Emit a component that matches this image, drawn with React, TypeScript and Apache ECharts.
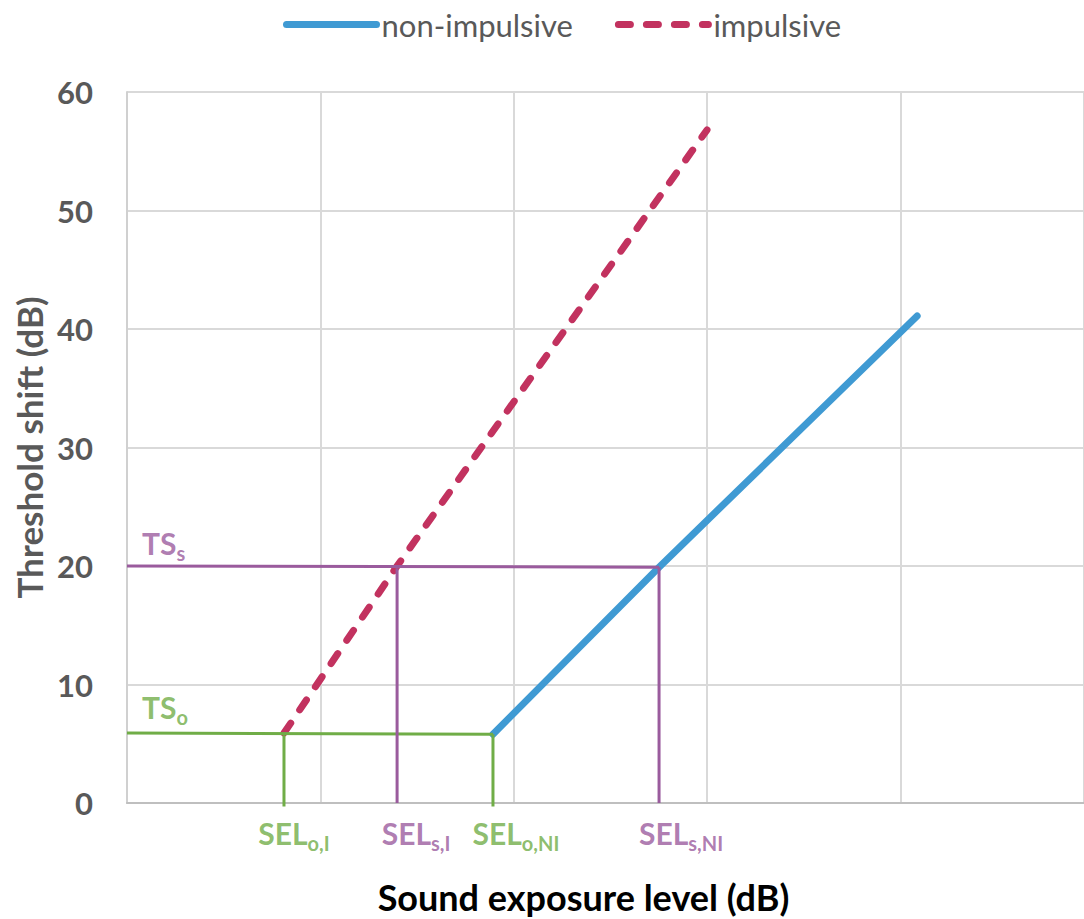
import React, { useEffect, useRef } from "react";
import * as echarts from "echarts";

// Curves (x in gridline units, y in dB)
const nonImpulsiveX = [1.893, 2.752, 4.087];
const nonImpulsiveY = [5.8, 19.9, 41.1];
const impulsiveX = [0.812, 1.397, 3.0];
const impulsiveY = [5.9, 20, 56.8];

// Reference lines
const tsOnset = 5.9;
const tsSignificant = 20;
const selOnsetI = 0.812;
const selOnsetNI = 1.893;
const selSigI = 1.397;
const selSigNI = 2.752;

const yTicks = [0, 10, 20, 30, 40, 50, 60];
const legendNames = ["non-impulsive", "impulsive"];

const FONT = "Lato, 'Open Sans', sans-serif";
const GREEN = "#70AD47";
const PURPLE = "#9A5B9D";
const BLUE = "#3F9AD3";
const CRIMSON = "#C2325F";

export default function App() {
  const ref = useRef<HTMLDivElement>(null);
  useEffect(() => {
    document.body.style.margin = "0";
    const chart = echarts.init(ref.current!, null, { renderer: "svg" });
    const zip = (xs: number[], ys: number[]) => xs.map((x, i) => [x, ys[i]]);
    const sub = (color: string) => ({
      m: { fontSize: 30, fontWeight: "bold", color, fontFamily: FONT, lineHeight: 34, verticalAlign: "bottom" },
      s: { fontSize: 20, fontWeight: "bold", color, fontFamily: FONT, lineHeight: 34, verticalAlign: "bottom", padding: [0, 0, -5, 0] },
    });
    const labelY = -2.35;
    const selLabels = [
      { x: selOnsetI, t: "{m|SEL}{s|o,I}", c: GREEN, off: 10 },
      { x: selSigI, t: "{m|SEL}{s|s,I}", c: PURPLE, off: 19 },
      { x: selOnsetNI, t: "{m|SEL}{s|o,NI}", c: GREEN, off: 23 },
      { x: selSigNI, t: "{m|SEL}{s|s,NI}", c: PURPLE, off: 22 },
    ];
    const tsLabels = [
      { y: 22.1, t: "{m|TS}{s|s}", c: PURPLE },
      { y: 8.3, t: "{m|TS}{s|o}", c: GREEN },
    ];
    chart.setOption({
      animation: false,
      legend: {
        data: legendNames,
        top: 4,
        left: 278,
        itemWidth: 90,
        itemHeight: 8,
        itemGap: 42,
        itemStyle: { opacity: 0 },
        lineStyle: { width: 7, cap: "round" },
        textStyle: { fontSize: 31, color: "#595959", fontFamily: FONT },
      },
      grid: { left: 127, right: 0, top: 92, bottom: 116, outerBoundsMode: "none", containLabel: false },
      xAxis: {
        type: "value",
        min: 0,
        max: 4.95,
        interval: 1,
        name: "Sound exposure level (dB)",
        nameLocation: "middle",
        nameGap: 76,
        nameTextStyle: { fontSize: 36, fontWeight: "bold", color: "#000", fontFamily: FONT, padding: [0, 44, 0, 0] },
        axisLine: { show: true, lineStyle: { color: "#BFBFBF", width: 2 } },
        axisTick: { show: false },
        axisLabel: { show: false },
        splitLine: { show: true, lineStyle: { color: "#D9D9D9", width: 2 } },
      },
      yAxis: {
        type: "value",
        min: 0,
        max: 60,
        interval: 10,
        name: "Threshold shift (dB)",
        nameLocation: "middle",
        nameGap: 64,
        nameTextStyle: { fontSize: 35, fontWeight: "bold", color: "#595959", fontFamily: FONT },
        axisLine: { show: true, lineStyle: { color: "#D0D0D0", width: 2 } },
        axisTick: { show: false },
        axisLabel: {
          fontSize: 31,
          fontWeight: "bold",
          color: "#595959",
          fontFamily: FONT,
          margin: 34,
          formatter: (v: number) => (yTicks.includes(v) ? String(v) : ""),
        },
        splitLine: { show: true, lineStyle: { color: "#D9D9D9", width: 2 } },
      },
      series: [
        {
          name: legendNames[0],
          type: "line",
          data: zip(nonImpulsiveX, nonImpulsiveY),
          showSymbol: false,
          symbol: "none",
          lineStyle: { color: BLUE, width: 7, cap: "round" },
          itemStyle: { color: BLUE },
          z: 2,
        },
        {
          name: legendNames[1],
          type: "line",
          data: zip(impulsiveX, impulsiveY),
          showSymbol: false,
          symbol: "none",
          lineStyle: { color: CRIMSON, width: 7, type: [12, 16], cap: "round" },
          itemStyle: { color: CRIMSON },
          z: 2,
        },
        {
          name: "ref-onset",
          type: "line",
          symbol: "none",
          clip: false,
          data: [
            [0, tsOnset], [selOnsetNI, tsOnset - 0.1], null,
            [selOnsetI, tsOnset], [selOnsetI, -0.3], null,
            [selOnsetNI, tsOnset - 0.1], [selOnsetNI, -0.3],
          ],
          connectNulls: false,
          lineStyle: { color: GREEN, width: 3 },
          z: 3,
        },
        {
          name: "ref-significant",
          type: "line",
          symbol: "none",
          clip: false,
          data: [
            [0, tsSignificant], [selSigNI, tsSignificant - 0.1], null,
            [selSigI, tsSignificant], [selSigI, 0], null,
            [selSigNI, tsSignificant - 0.1], [selSigNI, 0],
          ],
          connectNulls: false,
          lineStyle: { color: PURPLE, width: 3 },
          z: 3,
        },
        {
          name: "labels",
          type: "scatter",
          symbolSize: 1,
          clip: false,
          itemStyle: { color: "rgba(0,0,0,0)" },
          silent: true,
          z: 4,
          data: [
            ...selLabels.map((l) => ({
              value: [l.x, labelY],
              label: { show: true, position: "inside", offset: [l.off, 0], formatter: l.t, rich: sub(l.c) },
            })),
            ...tsLabels.map((l) => ({
              value: [0.075, l.y],
              label: { show: true, position: "right", distance: 0, formatter: l.t, rich: sub(l.c) },
            })),
          ],
        },
      ],
    });
    return () => chart.dispose();
  }, []);
  return <div ref={ref} style={{ width: 1084, height: 919 }} />;
}
